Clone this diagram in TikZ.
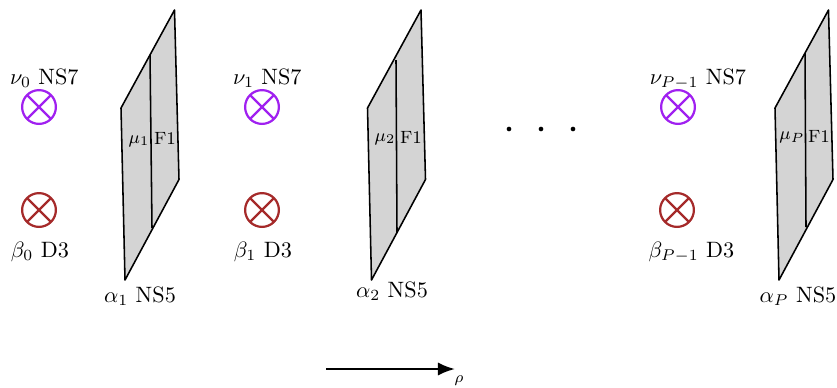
\documentclass[tikz,border=0pt]{standalone}
\usepackage{amsmath,amssymb}
\usepackage{xcolor}
\usetikzlibrary{arrows.meta,positioning}

\definecolor{nsviolet}{RGB}{160,32,240}
\definecolor{dbrown}{RGB}{165,42,42}

\begin{document}
\begin{tikzpicture}[x=0.45pt, y=-0.45pt,
    every node/.style={inner sep=0pt},
    brane/.style={circle, draw=#1, line width=1pt, minimum size=15.2pt,
        path picture={\draw[#1, line width=1pt]
            (path picture bounding box.north west) -- (path picture bounding box.south east)
            (path picture bounding box.north east) -- (path picture bounding box.south west);}},
    sheet/.style={draw=black, fill=black!17, line width=0.7pt, line join=round},
    edge/.style={line width=0.7pt},
    small/.style={font=\footnotesize},
    arrow/.style={-{Latex[length=2.7mm, width=2.1mm]}, line width=1.05pt},
    dotmark/.style={circle, fill=black, minimum size=2.1pt},
]
\useasboundingbox (0,0) rectangle (837,387);

% branes
\node[brane=nsviolet] (nu0) at (39,107) {};
\node[brane=dbrown] (beta0) at (39,210) {};
\node[brane=nsviolet] (nu1) at (262,107) {};
\node[brane=dbrown] (beta1) at (262,210) {};
\node[brane=nsviolet] (nuP) at (678,107) {};
\node[brane=dbrown] (betaP) at (677,210) {};

\node[above=0.4pt of nu0, xshift=2.4pt] (nu0lab) {$\nu_0$ NS7};
\node[below=6pt of beta0, xshift=0.4pt] (beta0lab) {$\beta_0$ D3};
\node[above=0.4pt of nu1, xshift=2.4pt] (nu1lab) {$\nu_1$ NS7};
\node[below=6pt of beta1, xshift=0.4pt] (beta1lab) {$\beta_1$ D3};
\node[above=-0.4pt of nuP, xshift=9pt] (nuPlab) {$\nu_{P-1}$ NS7};
\node[below=6pt of betaP, xshift=6.5pt] (betaPlab) {$\beta_{P-1}$ D3};

% sheets with the F1 line
\foreach \name/\dx/\dy/\ta/\tb/\ma/\mb/\mx/\my/\fx/\fy in {
    1/0/0/55/228/150/152/139/141/165/138,
    2/246.5/0/60/233/396/397/385/139/411/137,
    P/654/0/53/227/805/806/792/137/819/136} {
    \draw[sheet] (121+\dx,108) -- (174.5+\dx,10) -- (179+\dx,179.5) -- (125+\dx,280) -- cycle;
    \coordinate (top\name) at (\ma,\ta);
    \coordinate (bot\name) at (\mb,\tb);
    \draw[edge] (top\name) -- (bot\name);
    \node[small] (mu\name) at (\mx,\my) {$\mu_\name$};
    \node[small] (fone\name) at (\fx,\fy) {F1};
}

\node (alpha1) at (140,296) {$\alpha_1$ NS5};
\node (alpha2) at (392,291) {$\alpha_2$ NS5};
\node (alphaP) at (798,296) {$\alpha_P$ NS5};

% dots
\node[dotmark] (dota) at (509,129) {};
\node[dotmark] (dotb) at (541,129) {};
\node[dotmark] (dotc) at (573,129) {};

% rho axis
\coordinate (rhostart) at (326,369);
\coordinate (rhoend) at (455,369);
\draw[arrow] (rhostart) -- (rhoend);
\node[font=\scriptsize] (rho) at (459,381) {$\rho$};
\end{tikzpicture}
\end{document}
